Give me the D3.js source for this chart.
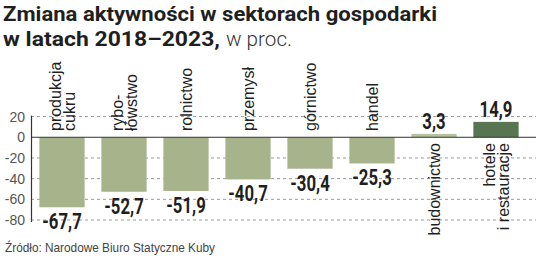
<!DOCTYPE html>
<html>
<head>
<meta charset="utf-8">
<script src="https://cdn.jsdelivr.net/npm/d3@7"></script>
<style>
body { margin: 0; background: #fff; }
svg { display: block; }
</style>
</head>
<body>
<script>
var categories = ['produkcja cukru', 'rybołówstwo', 'rolnictwo', 'przemysł', 'górnictwo', 'handel', 'budownictwo', 'hotele i restauracje'];
var labelLines = [['produkcja', 'cukru'], ['rybo-', 'łówstwo'], ['rolnictwo'], ['przemysł'], ['górnictwo'], ['handel'], ['budownictwo'], ['hotele', 'i restauracje']];
var values = [-67.7, -52.7, -51.9, -40.7, -30.4, -25.3, 3.3, 14.9];
var yTicks = [20, 0, -20, -40, -60, -80];

var W = 536, H = 258;
var svg = d3.select('body').append('svg').attr('width', W).attr('height', H);

var bold = '"Roboto", sans-serif';
var plain = '"Liberation Sans", Arial, sans-serif';

/*TITLE*/
svg.append('text')
    .attr('x', 3).attr('y', 20.5)
    .attr('font-family', bold).attr('font-weight', 700)
    .attr('font-size', 21).attr('fill', '#1f1f1f')
    .attr('textLength', 434).attr('lengthAdjust', 'spacingAndGlyphs')
    .text('Zmiana aktywności w sektorach gospodarki');
svg.append('text')
    .attr('x', 3).attr('y', 45.5)
    .attr('font-family', bold).attr('font-weight', 700)
    .attr('font-size', 21).attr('fill', '#1f1f1f')
    .attr('textLength', 217).attr('lengthAdjust', 'spacingAndGlyphs')
    .text('w latach 2018–2023,');
svg.append('text')
    .attr('x', 226).attr('y', 45.5)
    .attr('font-family', bold).attr('font-weight', 300)
    .attr('font-size', 21).attr('fill', '#333')
    .attr('textLength', 66).attr('lengthAdjust', 'spacingAndGlyphs')
    .text('w proc.');

/*SCALES*/
var x = d3.scaleBand().domain(categories).range([31, 527]).paddingInner(0.27).paddingOuter(0.135);
var y = d3.scaleLinear().domain([-80, 20]).range([220, 116.6]);

/*GRID*/
svg.selectAll('line.grid')
    .data(yTicks.filter(function(d) { return d !== 0; }))
    .enter().append('line')
        .attr('class', 'grid')
        .attr('x1', 31).attr('x2', W)
        .attr('y1', function(d) { return y(d); })
        .attr('y2', function(d) { return y(d); })
        .attr('stroke', '#9a9a9a').attr('stroke-width', 1)
        .attr('stroke-dasharray', '3,3');

svg.selectAll('text.tick')
    .data(yTicks)
    .enter().append('text')
        .attr('class', 'tick')
        .attr('x', 25)
        .attr('y', function(d) { return y(d) + 5; })
        .attr('text-anchor', 'end')
        .attr('font-family', plain).attr('font-size', 14)
        .attr('fill', '#555')
        .text(function(d) { return d; });

/*BARS*/
svg.selectAll('rect.bar')
    .data(values)
    .enter().append('rect')
        .attr('class', 'bar')
        .attr('x', function(d, i) { return x(categories[i]); })
        .attr('width', x.bandwidth())
        .attr('y', function(d) { return y(Math.max(0, d)); })
        .attr('height', function(d) { return Math.abs(y(d) - y(0)); })
        .attr('fill', function(d, i) { return d > 10 ? '#587552' : (d > 0 ? '#b7c29f' : '#a7b38b'); });

/*AXES LINES*/
svg.append('line')
    .attr('x1', 31).attr('x2', W)
    .attr('y1', y(0)).attr('y2', y(0))
    .attr('stroke', '#333').attr('stroke-width', 1);
svg.append('line')
    .attr('x1', 31.5).attr('x2', 31.5)
    .attr('y1', y(20) - 1).attr('y2', y(-80) + 2)
    .attr('stroke', '#333').attr('stroke-width', 1.2);

/*VALUE LABELS*/
svg.selectAll('text.value')
    .data(values)
    .enter().append('text')
        .attr('class', 'value')
        .attr('x', function(d, i) { return x(categories[i]) + x.bandwidth() / 2; })
        .attr('y', function(d) { return d < 0 ? y(d) + 22 : y(d) - 5; })
        .attr('text-anchor', 'middle')
        .attr('font-family', bold).attr('font-weight', 700)
        .attr('font-size', 22).attr('fill', '#1f1f1f')
        .text(function(d) { return String(d).replace('.', ','); })
        .each(function() {
            var w = this.getComputedTextLength();
            d3.select(this).attr('textLength', w * 0.76).attr('lengthAdjust', 'spacingAndGlyphs');
        });

/*CATEGORY LABELS*/
var cat = svg.selectAll('g.cat')
    .data(labelLines)
    .enter().append('g')
        .attr('class', 'cat')
        .attr('transform', function(d, i) {
            var cx = x(categories[i]) + x.bandwidth() / 2;
            var ty = values[i] < 0 ? 131 : 143;
            return 'translate(' + cx + ',' + ty + ') rotate(-90)';
        });

cat.each(function(lines, i) {
    var g = d3.select(this);
    g.selectAll('text')
        .data(lines)
        .enter().append('text')
            .attr('x', 0)
            .attr('y', function(d, j) { return 6 + (j - (lines.length - 1) / 2) * 14; })
            .attr('text-anchor', values[i] < 0 ? 'start' : 'end')
            .attr('font-family', plain).attr('font-size', 16)
            .attr('fill', '#1f1f1f')
            .text(function(d) { return d; });
});

/*SOURCE*/
svg.append('text')
    .attr('x', 5).attr('y', 252)
    .attr('font-family', plain).attr('font-size', 13)
    .attr('fill', '#444')
    .attr('textLength', 210).attr('lengthAdjust', 'spacingAndGlyphs')
    .text('Źródło: Narodowe Biuro Statyczne Kuby');
</script>
</body>
</html>
